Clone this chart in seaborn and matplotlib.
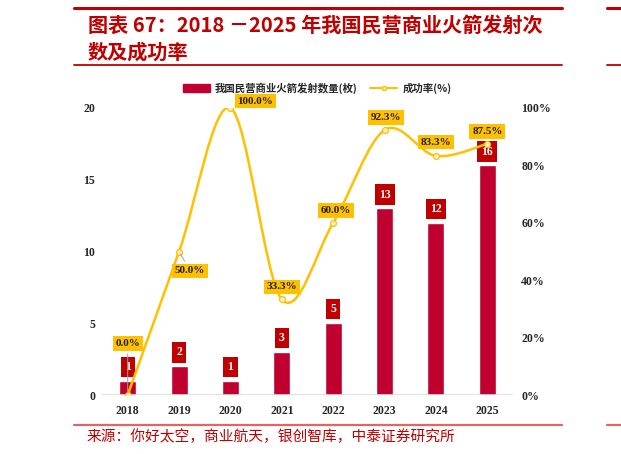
import numpy as np
import matplotlib
matplotlib.use('Agg')
import matplotlib.pyplot as plt
import seaborn as sns
from matplotlib.path import Path
from matplotlib.patches import PathPatch, Patch
from matplotlib.lines import Line2D
from matplotlib.ticker import FuncFormatter

# Data
years = ['2018', '2019', '2020', '2021', '2022', '2023', '2024', '2025']
launches = [1, 2, 1, 3, 5, 13, 12, 16]
success_rate = [0.0, 0.5, 1.0, 0.333, 0.6, 0.923, 0.833, 0.875]
rate_labels = ['0.0%', '50.0%', '100.0%', '33.3%', '60.0%', '92.3%', '83.3%', '87.5%']

# label offsets (points) for the success-rate boxes
rate_offsets = [(0, 37), (8, -14), (18, 5), (0, 9), (2, 9), (1, 9), (0, 10), (0, 9)]

BAR_RED = '#C0002F'
BOX_RED = '#C00000'
GOLD = '#FFC000'
CJK = ['Noto Sans CJK SC', 'DejaVu Sans']
SERIF = 'Liberation Serif'

sns.set_style('white')
plt.rcParams['font.family'] = CJK

fig = plt.figure(figsize=(6.21, 4.54), dpi=100)
ax = fig.add_axes([102 / 621, 59 / 454, 411 / 621, 287 / 454])

sns.barplot(x=years, y=launches, color=BAR_RED, saturation=1, width=0.33, ax=ax)
ax.set_xlim(-0.5, 7.5)
ax.set_ylim(0, 20)
ax.set_yticks([0, 5, 10, 15, 20])
ax.set_xlabel('')
ax.set_ylabel('')
for s in ax.spines.values():
    s.set_visible(False)
ax.axhline(0, color='#D9D9D9', lw=1.2, zorder=1)
ax.tick_params(axis='both', length=0, labelsize=8.5)
ax.tick_params(axis='x', pad=7)
ax.tick_params(axis='y', pad=5)
for lab in ax.get_xticklabels() + ax.get_yticklabels():
    lab.set_fontfamily(SERIF)
    lab.set_fontweight('bold')

# count labels
for i, v in enumerate(launches):
    ax.annotate(str(v), (i, v), xytext=(0, 10), textcoords='offset points',
                ha='center', va='center', color='white', fontsize=8.5,
                fontweight='bold', family=SERIF,
                bbox=dict(boxstyle='square,pad=0.35', fc=BOX_RED, ec='none'))

# success rate on secondary axis
ax2 = ax.twinx()
ax2.set_ylim(0, 1)
ax2.set_yticks([0, 0.2, 0.4, 0.6, 0.8, 1.0])
ax2.yaxis.set_major_formatter(FuncFormatter(lambda v, p: f'{v * 100:.0f}%'))
for s in ax2.spines.values():
    s.set_visible(False)
ax2.tick_params(axis='y', length=0, labelsize=8.5, pad=6)
for lab in ax2.get_yticklabels():
    lab.set_fontfamily(SERIF)
    lab.set_fontweight('bold')

# smoothed line (Catmull-Rom as cubic Bezier, like Excel smoothing)
pts = np.column_stack([np.arange(len(years)), success_rate])
ext = np.vstack([pts[0], pts, pts[-1]])
verts = [pts[0]]
codes = [Path.MOVETO]
for k in range(len(pts) - 1):
    p0, p1, p2, p3 = ext[k], ext[k + 1], ext[k + 2], ext[k + 3]
    verts += [p1 + (p2 - p0) / 6, p2 - (p3 - p1) / 6, p2]
    codes += [Path.CURVE4] * 3
ax2.add_patch(PathPatch(Path(verts, codes), fc='none', ec=GOLD, lw=1.8, zorder=3))
sns.scatterplot(x=np.arange(len(years)), y=success_rate, ax=ax2, s=18,
                color='#FFF2CC', edgecolor=GOLD, linewidth=0.9, zorder=4)

for i, (v, t) in enumerate(zip(success_rate, rate_labels)):
    dx, dy = rate_offsets[i]
    arrow = dict(arrowstyle='-', color='#A0A0A0', lw=0.7) if i in (0, 1) else None
    ax2.annotate(t, (i, v), xytext=(dx, dy), textcoords='offset points',
                 ha='center', va='center', color='#202020', fontsize=8,
                 fontweight='bold', family=SERIF, arrowprops=arrow,
                 bbox=dict(boxstyle='square,pad=0.25', fc=GOLD, ec='none'),
                 zorder=5)

# legend
handles = [Patch(color=BAR_RED),
           Line2D([0], [0], color=GOLD, lw=1.5, marker='o', ms=3,
                  mfc='#FFF2CC', mec=GOLD)]
fig.legend(handles, ['我国民营商业火箭发射数量(枚)', '成功率(%)'],
           loc='center', bbox_to_anchor=(317 / 621, 1 - 88 / 454), ncol=2,
           frameon=False, prop={'family': CJK, 'size': 7.5, 'weight': 'bold'},
           handlelength=2.6, handleheight=0.9, columnspacing=1.2, handletextpad=0.5)

# title block and page rules
fig.text(88 / 621, 1 - 25 / 454, '图表 67：2018 －2025 年我国民营商业火箭发射次',
         color=BOX_RED, fontsize=14.5, fontweight='bold', style='italic',
         va='center', ha='left', family=CJK)
fig.text(88 / 621, 1 - 52 / 454, '数及成功率', color=BOX_RED, fontsize=14.5,
         fontweight='bold', style='italic', va='center', ha='left', family=CJK)
for y, lw, c in [(8, 2.2, BOX_RED), (65, 1.3, BOX_RED), (425, 1.6, '#E06666')]:
    fig.add_artist(Line2D([74 / 621, 562 / 621], [1 - y / 454] * 2, color=c, lw=lw))
    fig.add_artist(Line2D([607 / 621, 1.0], [1 - y / 454] * 2, color=c, lw=lw))
fig.text(87 / 621, 1 - 437 / 454, '来源：你好太空，商业航天，银创智库，中泰证券研究所',
         color=BOX_RED, fontsize=10.6, va='center', ha='left', family=CJK)

fig.savefig('out.png', dpi=100)
